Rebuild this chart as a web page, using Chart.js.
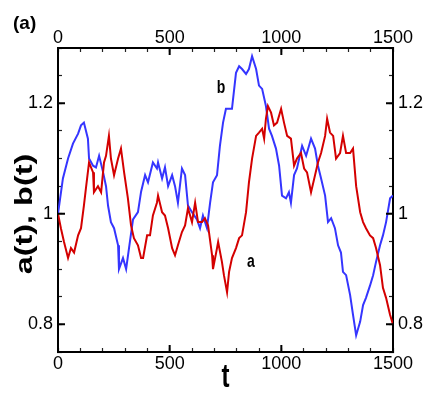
<!DOCTYPE html>
<html>
<head>
<meta charset="utf-8">
<script src="https://cdn.jsdelivr.net/npm/chart.js@4/dist/chart.umd.min.js"></script>
<style>
html, body { margin: 0; padding: 0; background: #fff; }
canvas { display: block; }
</style>
</head>
<body>
<canvas id="chart" width="447" height="397"></canvas>
<script>
// a(t), red
let tA = [0, 13, 27, 45, 58, 72, 90, 103, 116, 125, 139, 157, 161, 179, 193, 206, 215, 228, 237, 251,
  269, 282, 296, 313, 327, 340, 358, 372, 381, 399, 412, 425, 443, 448, 466, 479, 493, 511, 524, 537,
  555, 569, 582, 600, 614, 627, 645, 658, 672, 690, 694, 712, 717, 734, 743, 757, 766, 779, 797, 811,
  824, 842, 855, 869, 887, 900, 914, 923, 931, 940, 954, 967, 981, 999, 1012, 1026, 1043, 1057, 1070, 1088,
  1102, 1115, 1133, 1151, 1164, 1178, 1196, 1205, 1218, 1232, 1245, 1263, 1276, 1290, 1308, 1321, 1335, 1353, 1366, 1379,
  1397, 1411, 1424, 1442, 1455, 1469, 1487, 1500];
let a = [1.0, 0.974, 0.949, 0.92, 0.938, 0.93, 0.961, 0.974, 1.015, 1.046, 1.093, 1.075, 1.039, 1.05, 1.039, 1.093, 1.105, 1.141, 1.10, 1.07,
  1.10, 1.118, 1.075, 1.028, 0.979, 0.956, 0.943, 0.92, 0.92, 0.961, 0.961, 0.997, 1.02, 1.033, 1.003, 0.997, 0.974, 0.938, 0.925, 0.943,
  0.967, 0.979, 1.01, 0.985, 1.02, 0.985, 0.985, 0.992, 0.979, 0.925, 0.90, 0.938, 0.949, 0.913, 0.889, 0.858, 0.895, 0.92, 0.938, 0.956,
  0.961, 1.003, 1.057, 1.10, 1.141, 1.147, 1.154, 1.136, 1.172, 1.195, 1.183, 1.16, 1.165, 1.19, 1.165, 1.141, 1.136, 1.087, 1.10, 1.11,
  1.082, 1.075, 1.039, 1.07, 1.093, 1.11, 1.141, 1.172, 1.147, 1.141, 1.10, 1.11, 1.141, 1.11, 1.11, 1.118, 1.05, 1.003, 0.985, 0.974,
  0.961, 0.956, 0.938, 0.907, 0.866, 0.848, 0.817, 0.80];

// b(t), blue
let tB = [0, 22, 45, 67, 90, 103, 116, 134, 139, 157, 170, 184, 202, 215, 224, 237, 251, 269, 273, 291,
  305, 318, 336, 358, 372, 390, 403, 425, 443, 448, 466, 479, 493, 511, 524, 537, 555, 569, 582, 600,
  622, 636, 649, 667, 681, 694, 712, 725, 739, 752, 779, 797, 811, 824, 842, 855, 869, 887, 900, 914,
  931, 945, 958, 976, 990, 1003, 1021, 1034, 1043, 1057, 1070, 1093, 1111, 1124, 1133, 1151, 1164, 1178, 1196, 1209,
  1223, 1240, 1254, 1267, 1276, 1290, 1308, 1321, 1335, 1353, 1366, 1379, 1397, 1411, 1424, 1442, 1455, 1469, 1487, 1500];
let b = [1.0, 1.064, 1.10, 1.127, 1.145, 1.16, 1.165, 1.136, 1.10, 1.087, 1.084, 1.105, 1.075, 1.05, 1.015, 0.985, 0.974, 0.943, 0.90, 0.92,
  0.90, 0.938, 0.99, 1.003, 1.04, 1.07, 1.057, 1.093, 1.082, 1.093, 1.064, 1.084, 1.05, 1.07, 1.05, 1.02, 1.082, 1.07, 1.015, 1.003,
  0.99, 0.974, 0.997, 0.974, 1.02, 1.057, 1.07, 1.123, 1.165, 1.19, 1.19, 1.255, 1.267, 1.262, 1.253, 1.262, 1.285, 1.262, 1.232, 1.226,
  1.195, 1.154, 1.141, 1.118, 1.087, 1.033, 1.028, 1.039, 1.02, 1.07, 1.082, 1.123, 1.105, 1.123, 1.136, 1.118, 1.087, 1.064, 1.033, 0.985,
  0.992, 0.974, 0.943, 0.93, 0.895, 0.889, 0.853, 0.817, 0.78, 0.805, 0.835, 0.848, 0.87, 0.889, 0.913, 0.943, 0.961, 0.985, 1.028, 1.033];

let xMajor = [0, 500, 1000, 1500];
let yMajor = [0.8, 1, 1.2];

// where the curve names sit, in data units
let nameA = {t: 864, v: 0.913};
let nameB = {t: 730, v: 1.227};

let family = "'Liberation Sans', Arial, Helvetica, sans-serif";

function points(ts, vs) {
    return ts.map((t, i) => ({x: t, y: vs[i]}));
}

function xAxis(position, height, padding) {
    return {
        type: 'linear',
        position: position,
        min: 0,
        max: 1500,
        afterFit: s => { s.height = height; },
        ticks: {
            stepSize: 100,
            autoSkip: false,
            maxRotation: 0,
            padding: padding,
            color: '#000',
            font: {family: family, size: 18},
            callback: v => v % 500 === 0 ? String(v) : ''
        },
        grid: {drawOnChartArea: false, tickLength: -4, tickColor: '#222', tickWidth: 1.2},
        border: {color: '#000', width: 2}
    };
}

function yAxis(position, width) {
    return {
        type: 'linear',
        position: position,
        min: 0.75,
        max: 1.3,
        afterFit: s => { s.width = width; },
        ticks: {
            stepSize: 0.05,
            autoSkip: false,
            padding: 9,
            color: '#000',
            font: {family: family, size: 18},
            callback: v => {
                let k = Math.round(v * 10);
                return Math.abs(v * 10 - k) < 1e-6 && k % 2 === 0 ? String(k / 10) : '';
            }
        },
        grid: {drawOnChartArea: false, tickLength: -4, tickColor: '#222', tickWidth: 1.2},
        border: {color: '#000', width: 2}
    };
}

function text(ctx, str, x, y, opts) {
    ctx.save();
    ctx.translate(x, y);
    if (opts.rotate) ctx.rotate(opts.rotate);
    ctx.scale(opts.sx || 1, opts.sy || 1);
    ctx.font = opts.font;
    ctx.fillStyle = '#000';
    ctx.textAlign = opts.align || 'center';
    ctx.textBaseline = opts.baseline || 'middle';
    ctx.fillText(str, 0, 0);
    ctx.restore();
}

let decor = {
    id: 'decor',
    afterDraw(chart) {
        let ctx = chart.ctx;
        let ca = chart.chartArea;
        let sx = chart.scales.x, sy = chart.scales.y;

        // longer major ticks on all four sides
        ctx.save();
        ctx.strokeStyle = '#000';
        ctx.lineWidth = 2;
        ctx.beginPath();
        xMajor.forEach(v => {
            let px = sx.getPixelForValue(v);
            ctx.moveTo(px, ca.bottom); ctx.lineTo(px, ca.bottom - 7);
            ctx.moveTo(px, ca.top); ctx.lineTo(px, ca.top + 7);
        });
        yMajor.forEach(v => {
            let py = sy.getPixelForValue(v);
            ctx.moveTo(ca.left, py); ctx.lineTo(ca.left + 7, py);
            ctx.moveTo(ca.right, py); ctx.lineTo(ca.right - 7, py);
        });
        ctx.stroke();
        ctx.restore();

        text(ctx, '(a)', 13, 29, {font: 'bold 19px ' + family, align: 'left', baseline: 'alphabetic'});
        text(ctx, 'a(t), b(t)', 25, 214, {font: 'bold 24px ' + family, rotate: -Math.PI / 2, sx: 1.35});
        text(ctx, 't', (ca.left + ca.right) / 2, 386.5, {font: 'bold 24px ' + family, sy: 1.4, baseline: 'alphabetic'});
        text(ctx, 'a', sx.getPixelForValue(nameA.t), sy.getPixelForValue(nameA.v), {font: 'bold 14px ' + family, sy: 1.3});
        text(ctx, 'b', sx.getPixelForValue(nameB.t), sy.getPixelForValue(nameB.v), {font: 'bold 14px ' + family, sy: 1.3});
    }
};

new Chart(document.getElementById('chart').getContext('2d'), {
    type: 'line',
    data: {
        datasets: [
            {
                label: 'a(t)',
                data: points(tA, a),
                borderColor: '#d40000',
                borderWidth: 2,
                pointRadius: 0,
                tension: 0,
                xAxisID: 'x',
                yAxisID: 'y'
            },
            {
                label: 'b(t)',
                data: points(tB, b),
                borderColor: '#3535ff',
                borderWidth: 2,
                pointRadius: 0,
                tension: 0,
                xAxisID: 'x',
                yAxisID: 'y'
            }
        ]
    },
    options: {
        responsive: false,
        animation: false,
        devicePixelRatio: 1,
        layout: {padding: 0},
        plugins: {legend: {display: false}, tooltip: {enabled: false}},
        scales: {
            x: xAxis('bottom', 45, 5),
            x2: xAxis('top', 48, 3),
            y: yAxis('left', 58),
            y2: yAxis('right', 54)
        }
    },
    plugins: [decor]
});
</script>
</body>
</html>
